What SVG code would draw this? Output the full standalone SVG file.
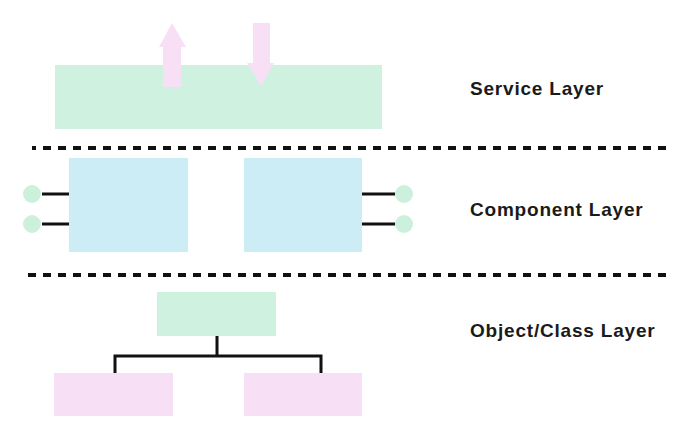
<svg xmlns="http://www.w3.org/2000/svg" width="700" height="436" viewBox="0 0 700 436">
<style>
.green{fill:#cff2e0}
.blue{fill:#cdedf6}
.pink{fill:#f7e0f6}
.port{fill:#cdf0dc}
.wire{stroke:#111;stroke-width:3;fill:none}
.sep{stroke:#111;stroke-width:4;stroke-dasharray:8 7;fill:none}
.label{font-family:"Liberation Sans",Arial,sans-serif;font-weight:bold;font-size:19px;letter-spacing:0.8px;fill:#1a1a1a}
</style>
<rect width="700" height="436" fill="#ffffff"/>
<g id="separators">
<line class="sep" x1="32" y1="148" x2="668" y2="148" stroke-dashoffset="4"/>
<line class="sep" x1="28" y1="275" x2="668" y2="275"/>
</g>
<g id="service-layer">
<rect class="green" x="55" y="65" width="327" height="64"/>
<polygon class="pink" points="172,23 186,47 181,47 181,87 163,87 163,47 159,47"/>
<polygon class="pink" points="253,23 270,23 270,63 274,63 261,86 247,63 253,63"/>
</g>
<g id="component-left">
<rect class="blue" x="69" y="158" width="119" height="94"/>
<circle class="port" cx="32" cy="194" r="9"/>
<circle class="port" cx="32" cy="224" r="9"/>
</g>
<g id="component-right">
<rect class="blue" x="244" y="158" width="118" height="94"/>
<circle class="port" cx="404" cy="194" r="9"/>
<circle class="port" cx="404" cy="224" r="9"/>
</g>
<g id="object-parent">
<rect class="green" x="157" y="292" width="119" height="44"/>
</g>
<g id="object-child-left">
<rect class="pink" x="54" y="373" width="119" height="43"/>
</g>
<g id="object-child-right">
<rect class="pink" x="244" y="373" width="118" height="43"/>
</g>
<g id="connectors">
<line class="wire" x1="42" y1="194" x2="69" y2="194"/>
<line class="wire" x1="42" y1="224" x2="69" y2="224"/>
<line class="wire" x1="362" y1="194" x2="395" y2="194"/>
<line class="wire" x1="362" y1="224" x2="395" y2="224"/>
<polyline class="wire" points="217,336 217,356"/>
<polyline class="wire" points="115,373 115,356 321,356 321,373"/>
</g>
<g id="labels">
<text class="label" x="470" y="95">Service Layer</text>
<text class="label" x="470" y="216">Component Layer</text>
<text class="label" x="470" y="337">Object/Class Layer</text>
</g>
</svg>
